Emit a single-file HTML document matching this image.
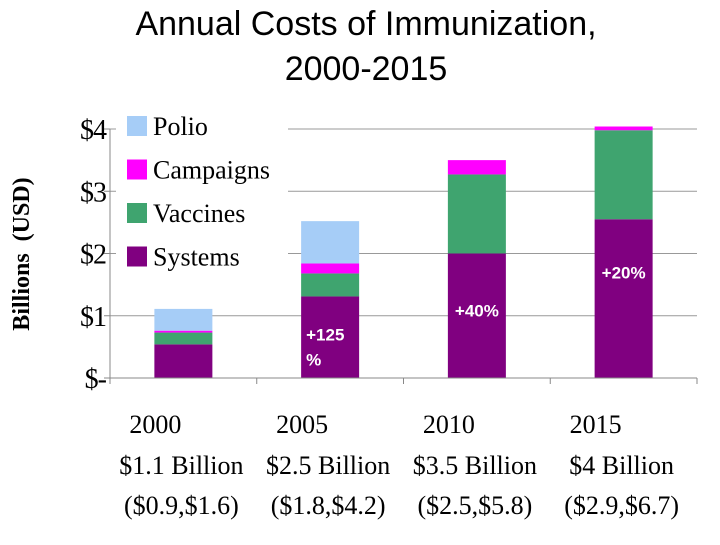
<!DOCTYPE html>
<html><head><meta charset="utf-8"><style>
body{margin:0;background:#fff;width:720px;height:540px;overflow:hidden}
svg text{font-family:"Liberation Serif",serif}
</style></head><body>
<svg id="c" width="720" height="540">
<text x="366" y="35" text-anchor="middle" font-size="34" style="font-family:'Liberation Sans',sans-serif">Annual Costs of Immunization,</text>
<text x="366" y="80" text-anchor="middle" font-size="34" style="font-family:'Liberation Sans',sans-serif">2000-2015</text>
<text transform="translate(29,254) rotate(-90)" text-anchor="middle" font-size="24" font-weight="bold" xml:space="preserve">Billions  (USD)</text>
<g id="grid"></g><g id="legend"></g><g id="bars"></g><g id="axes"></g><g id="xl"></g>
</svg>
<script>
const categories=["2000","2005","2010","2015"];
const systems=[0.54,1.31,2.0,2.55];
const vaccines=[0.19,0.37,1.27,1.43];
const campaigns=[0.03,0.16,0.23,0.06];
const polio=[0.35,0.68,0,0];
const yTicks=[0,1,2,3,4];
const yTickLabels=["$-","$1","$2","$3","$4"];
const totals=["$1.1 Billion","$2.5 Billion","$3.5 Billion","$4 Billion"];
const ranges=["($0.9,$1.6)","($1.8,$4.2)","($2.5,$5.8)","($2.9,$6.7)"];
const growth=["","+125\n%","+40%","+20%"];
const NS="http://www.w3.org/2000/svg";
const X0=110,X1=697,Y0=378,PER=62.25,BW=58;
const cw=(X1-X0)/categories.length;
const y=v=>Y0-v*PER;
const xc=i=>X0+cw*(i+0.5);
function mk(t,a,p){const e=document.createElementNS(NS,t);for(const k in a)e.setAttribute(k,a[k]);p.appendChild(e);return e;}
const G=document.getElementById('grid'),B=document.getElementById('bars'),A=document.getElementById('axes'),L=document.getElementById('legend'),XL=document.getElementById('xl');
yTicks.forEach((t,i)=>{
 if(t>0){const g=mk('line',{x1:X0,x2:X1,y1:y(t),y2:y(t),stroke:'#999','stroke-width':1},G);
 
 }
 const tk=mk('line',{x1:X0-6,x2:X0,y1:y(t),y2:y(t),stroke:'#888'},A);
 
 
 const tx=mk('text',{x:X0-4,y:y(t)+10,'text-anchor':'end','font-size':28,'letter-spacing':-1},A);tx.textContent=yTickLabels[i];
 
 
});
mk('line',{x1:X0,x2:X0,y1:y(4),y2:Y0,stroke:'#888'},A);
mk('line',{x1:X0,x2:X1,y1:Y0,y2:Y0,stroke:'#888'},A);
for(let i=0;i<=categories.length;i++){mk('line',{x1:X0+cw*i,x2:X0+cw*i,y1:Y0,y2:Y0+6,stroke:'#888'},A);}
const series=[["systems",systems,"#800080"],["vaccines",vaccines,"#3fa46f"],["campaigns",campaigns,"#ff00ff"],["polio",polio,"#a6cdf7"]];
categories.forEach((c,i)=>{
 let base=0;
 const bx=xc(i);
 series.forEach(([n,arr,col])=>{
  const v=arr[i];if(v<=0)return;
  const r=mk('rect',{x:bx-BW/2,y:y(base+v),width:BW,height:v*PER,fill:col},B);
  
  
  base+=v;
 });
 if(growth[i]){
  const lines=growth[i].split("\n");
  const yy0=i===1?y(systems[i])+44:(i===2?y(systems[i])+63:y(systems[i])+59);
  lines.forEach((ln,k)=>{const t=mk('text',{x:i===1?bx-24:bx,y:yy0+k*25,'text-anchor':i===1?'start':'middle','font-size':17,'font-weight':'bold',fill:'#fff',style:"font-family:'Liberation Sans',sans-serif"},B);t.textContent=ln;
  
  });
 }
 [[categories[i],bx-28,433],[totals[i],bx-2,474],[ranges[i],bx-2,514]].forEach(([s,xx,yy],k)=>{
  const t=mk('text',{x:xx,y:yy,'text-anchor':'middle','font-size':26},XL);t.textContent=s;
  
  
 });
});
mk('rect',{x:116,y:106,width:172,height:172,fill:'#fff'},L);
[["Polio","#a6cdf7"],["Campaigns","#ff00ff"],["Vaccines","#3fa46f"],["Systems","#800080"]].forEach(([n,col],k)=>{
 const yy=126+k*43.5;
 const r=mk('rect',{x:127,y:yy-10,width:20,height:20,fill:col},L);
 
 
 const t=mk('text',{x:153,y:yy+9,'font-size':26},L);t.textContent=n;
 
 
});
</script>
</body></html>
